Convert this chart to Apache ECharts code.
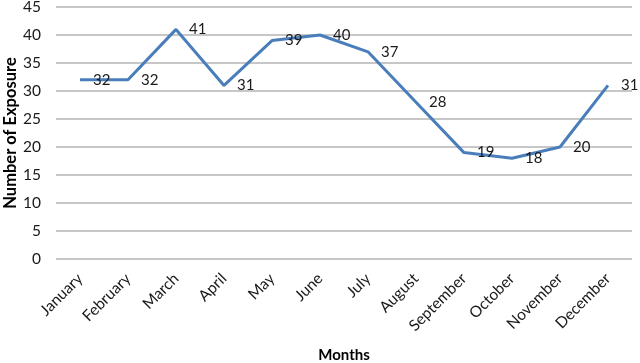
<!DOCTYPE html>
<html><head><meta charset="utf-8">
<script src="https://cdn.jsdelivr.net/npm/echarts@6/dist/echarts.min.js"></script>
<style>html,body{margin:0;padding:0;background:#fff;}#c{width:640px;height:363px;}</style>
</head><body><div id="c"></div>
<script>
var months = ["January","February","March","April","May","June","July","August","September","October","November","December"];
var exposures = [32,32,41,31,39,40,37,28,19,18,20,31];
var yTicks = {min:0, max:45, interval:5};
var chart = echarts.init(document.getElementById('c'), null, {renderer:'canvas'});
var font = 'Lato, "Open Sans", sans-serif';
chart.setOption({
  animation:false,
  grid:{left:56, right:8, top:7, bottom:104, containLabel:false, outerBoundsMode:'none'},
  xAxis:{type:'category', data:months, boundaryGap:true,
    name:'Months', nameLocation:'middle', nameGap:89, nameMoveOverlap:false,
    nameTextStyle:{fontFamily:font, fontWeight:'bold', fontSize:15, color:'#000'},
    axisLine:{show:false}, axisTick:{show:false},
    axisLabel:{rotate:45, interval:0, fontFamily:font, fontSize:15.5, color:'#1a1a1a', margin:17}},
  yAxis:{type:'value', min:yTicks.min, max:yTicks.max, interval:yTicks.interval,
    name:'Number of Exposure', nameLocation:'middle', nameGap:37, nameMoveOverlap:false,
    nameTextStyle:{fontFamily:font, fontWeight:'bold', fontSize:16.5, color:'#000'},
    axisLine:{show:false}, axisTick:{show:false},
    axisLabel:{fontFamily:font, fontSize:15.5, color:'#1a1a1a', margin:15},
    splitLine:{lineStyle:{color:'#b4b4b4', width:1.5}}},
  series:[{type:'line', data:exposures, symbol:'circle', symbolSize:0.01, showSymbol:true,
    itemStyle:{color:'#4a7ebb'},
    lineStyle:{color:'#4a7ebb', width:3},
    label:{show:true, position:'right', distance:13, fontFamily:font, fontSize:15, color:'#1a1a1a'}}]
});
</script></body></html>
